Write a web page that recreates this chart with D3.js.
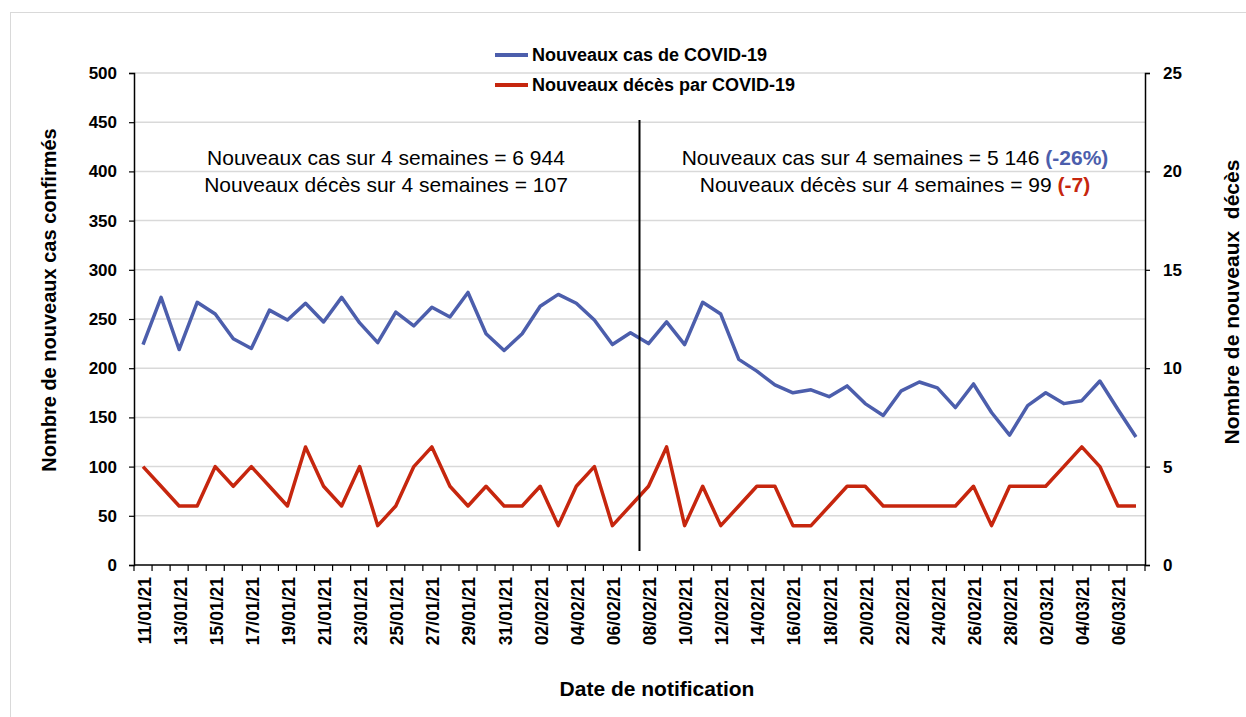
<!DOCTYPE html>
<html>
<head>
<meta charset="utf-8">
<script src="https://cdn.jsdelivr.net/npm/d3@7"></script>
<style>
  html, body { margin: 0; padding: 0; background: #fff; }
  svg { display: block; }
  text { font-family: "Liberation Sans", Arial, sans-serif; }
</style>
</head>
<body>
<svg id="chart" width="1246" height="717"></svg>
<script>
// ---- data ----
const dates = [
  "11/01/21","12/01/21","13/01/21","14/01/21","15/01/21","16/01/21","17/01/21","18/01/21","19/01/21","20/01/21",
  "21/01/21","22/01/21","23/01/21","24/01/21","25/01/21","26/01/21","27/01/21","28/01/21","29/01/21","30/01/21",
  "31/01/21","01/02/21","02/02/21","03/02/21","04/02/21","05/02/21","06/02/21","07/02/21","08/02/21","09/02/21",
  "10/02/21","11/02/21","12/02/21","13/02/21","14/02/21","15/02/21","16/02/21","17/02/21","18/02/21","19/02/21",
  "20/02/21","21/02/21","22/02/21","23/02/21","24/02/21","25/02/21","26/02/21","27/02/21","28/02/21","01/03/21",
  "02/03/21","03/03/21","04/03/21","05/03/21","06/03/21","07/03/21"
];
const nouveauxCas = [
  224,272,219,267,255,230,220,259,249,266,
  247,272,246,226,257,243,262,252,277,235,
  218,235,263,275,266,249,224,236,225,247,
  224,267,255,209,197,183,175,178,171,182,
  164,152,177,186,180,160,184,155,132,162,
  175,164,167,187,158,130
];
const nouveauxDeces = [
  5,4,3,3,5,4,5,4,3,6,
  4,3,5,2,3,5,6,4,3,4,
  3,3,4,2,4,5,2,3,4,6,
  2,4,2,3,4,4,2,2,3,4,
  4,3,3,3,3,3,4,2,4,4,
  4,5,6,5,3,3
];
const leftTicks = [0,50,100,150,200,250,300,350,400,450,500];
const rightTicks = [0,5,10,15,20,25];
const seriesNames = ["Nouveaux cas de COVID-19", "Nouveaux décès par COVID-19"];
const colors = ["#4C5EAC", "#C6260E"];

// ---- layout ----
const svg = d3.select("#chart");
const X0 = 134, X1 = 1145, Y0 = 565, Y1 = 73;

svg.append("rect").attr("x", 10.5).attr("y", 12.5).attr("width", 1240).attr("height", 712)
  .attr("fill", "none").attr("stroke", "#d9d9d9").attr("stroke-width", 1);

const x = d3.scaleBand().domain(dates).range([X0, X1]).padding(0);
const yL = d3.scaleLinear().domain([0, 500]).range([Y0, Y1]);
const yR = d3.scaleLinear().domain([0, 25]).range([Y0, Y1]);

// gridlines
svg.append("g").selectAll("line").data(leftTicks.filter(d => d > 0)).join("line")
  .attr("x1", X0).attr("x2", X1).attr("y1", d => yL(d)).attr("y2", d => yL(d))
  .attr("stroke", "#d9d9d9").attr("stroke-width", 1.5);

// left axis
const gL = svg.append("g").attr("transform", `translate(${X0},0)`)
  .call(d3.axisLeft(yL).tickValues(leftTicks).tickSize(5).tickPadding(12));
// right axis
const gR = svg.append("g").attr("transform", `translate(${X1},0)`)
  .call(d3.axisRight(yR).tickValues(rightTicks).tickSize(5).tickPadding(13));
[gL, gR].forEach(g => {
  g.select(".domain").attr("stroke", "#000").attr("stroke-width", 1.5);
  g.selectAll(".tick line").attr("stroke", "#000").attr("stroke-width", 1.2);
  g.selectAll(".tick text").attr("font-size", 17).attr("font-weight", "bold").attr("fill", "#000")
    .style("font-family", '"Liberation Sans", Arial, sans-serif');
});

// x axis: ticks at category boundaries, labels every 2 days
const gX = svg.append("g").attr("transform", `translate(0,${Y0})`);
gX.append("line").attr("x1", X0).attr("x2", X1).attr("y1", 0).attr("y2", 0)
  .attr("stroke", "#000").attr("stroke-width", 1.5);
gX.selectAll("line.tk").data(dates.concat(["__end"])).join("line").attr("class", "tk")
  .attr("x1", (d, i) => i < dates.length ? x(d) : X1)
  .attr("x2", (d, i) => i < dates.length ? x(d) : X1)
  .attr("y1", 0).attr("y2", 6).attr("stroke", "#000").attr("stroke-width", 1.2);
gX.selectAll("text").data(dates.filter((d, i) => i % 2 === 0)).join("text")
  .attr("transform", d => `translate(${x(d) + x.bandwidth() / 2 + 7.5},12) rotate(-90)`)
  .attr("text-anchor", "end").attr("font-size", 17.5).attr("font-weight", "bold")
  .text(d => d);

// lines
const lineL = d3.line().x((d, i) => x(dates[i]) + x.bandwidth() / 2).y(d => yL(d));
const lineR = d3.line().x((d, i) => x(dates[i]) + x.bandwidth() / 2).y(d => yR(d));
svg.append("path").datum(nouveauxCas).attr("d", lineL)
  .attr("fill", "none").attr("stroke", colors[0]).attr("stroke-width", 3.5).attr("stroke-linejoin", "round");
svg.append("path").datum(nouveauxDeces).attr("d", lineR)
  .attr("fill", "none").attr("stroke", colors[1]).attr("stroke-width", 3.5).attr("stroke-linejoin", "round");

// divider between the two 4-week periods
const xDiv = x("08/02/21");
svg.append("line").attr("x1", xDiv).attr("x2", xDiv).attr("y1", 120).attr("y2", 551)
  .attr("stroke", "#000").attr("stroke-width", 2);

// annotations
const ann = svg.append("g").attr("font-size", 21).attr("fill", "#000");
const a1 = ann.append("text").attr("x", 386).attr("y", 165).attr("text-anchor", "middle");
a1.append("tspan").text("Nouveaux cas sur 4 semaines = 6 944");
const a2 = ann.append("text").attr("x", 386).attr("y", 192).attr("text-anchor", "middle");
a2.append("tspan").text("Nouveaux décès sur 4 semaines = 107");
const a3 = ann.append("text").attr("x", 895).attr("y", 165).attr("text-anchor", "middle");
a3.append("tspan").text("Nouveaux cas sur 4 semaines = 5 146 ");
a3.append("tspan").attr("font-weight", "bold").attr("fill", colors[0]).text("(-26%)");
const a4 = ann.append("text").attr("x", 895).attr("y", 192).attr("text-anchor", "middle");
a4.append("tspan").text("Nouveaux décès sur 4 semaines = 99 ");
a4.append("tspan").attr("font-weight", "bold").attr("fill", colors[1]).text("(-7)");

// legend
const leg = svg.append("g");
seriesNames.forEach((name, i) => {
  const yy = 55 + i * 30;
  leg.append("line").attr("x1", 495).attr("x2", 528).attr("y1", yy).attr("y2", yy)
    .attr("stroke", colors[i]).attr("stroke-width", 4);
  leg.append("text").attr("x", 532).attr("y", yy + 6).attr("font-size", 18).attr("font-weight", "bold").text(name);
});

// axis titles
svg.append("text").attr("transform", `translate(56,300) rotate(-90)`)
  .attr("text-anchor", "middle").attr("font-size", 20).attr("font-weight", "bold")
  .text("Nombre de nouveaux cas confirmés");
svg.append("text").attr("transform", `translate(1239,302) rotate(-90)`)
  .attr("text-anchor", "middle").attr("font-size", 21).attr("font-weight", "bold")
  .attr("xml:space", "preserve").style("white-space", "pre")
  .text("Nombre de nouveaux  décès");
svg.append("text").attr("x", 657).attr("y", 696).attr("text-anchor", "middle")
  .attr("font-size", 21).attr("font-weight", "bold").text("Date de notification");
</script>
</body>
</html>
